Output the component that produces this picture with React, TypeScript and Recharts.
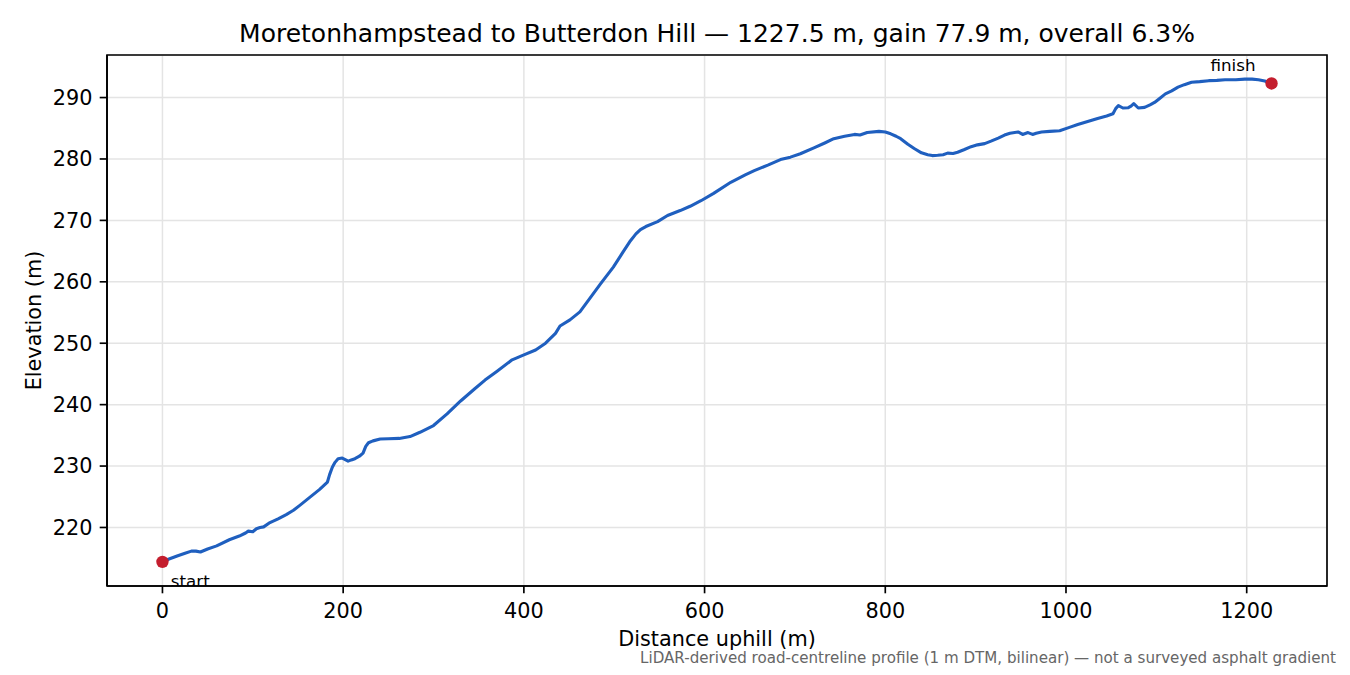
import React from 'react';
import {
  LineChart,
  Line,
  XAxis,
  YAxis,
  CartesianGrid,
  ReferenceArea,
} from 'recharts';

// ---- data ----
const distances: number[] = [
  0, 8, 17, 25, 32, 37, 42, 50, 60, 74, 85, 92, 95, 100, 104, 108, 112, 119, 128, 137,
  145, 152, 163, 174, 182.6, 185, 188, 191, 194.4, 199, 205.5, 209, 213, 218, 222, 225,
  228, 233, 241, 250, 262, 274, 285, 300, 315, 330, 345, 357, 370, 387, 400, 413, 424,
  435, 440, 451, 462, 473, 485, 499, 510, 518, 524, 529, 535, 548, 559, 573, 584, 596, 610, 629,
  645, 655, 670, 684, 695, 706, 721, 733, 743, 755, 766, 772, 780, 793, 800, 806, 812,
  817, 825, 832, 840, 847, 852, 858, 864, 869, 875, 880, 887, 895, 902, 910, 917, 925,
  932, 938, 947, 952, 958, 963, 967, 973, 982, 993, 1003, 1013, 1024, 1035, 1045, 1052,
  1055, 1058, 1063, 1069, 1072, 1075, 1080, 1087, 1093, 1098, 1104, 1110, 1117, 1124,
  1131, 1139, 1148, 1158, 1167, 1176, 1188, 1198, 1206, 1213, 1220, 1227.5,
];

const elevations: number[] = [
  214.4, 214.9, 215.4, 215.8, 216.15, 216.15, 216.0, 216.5, 217.0, 218.0, 218.6, 219.1,
  219.4, 219.3, 219.8, 220.0, 220.1, 220.8, 221.4, 222.1, 222.8, 223.6, 224.9, 226.2,
  227.4, 228.6, 229.8, 230.6, 231.2, 231.3, 230.8, 231.0, 231.2, 231.6, 232.1, 233.2,
  233.8, 234.1, 234.4, 234.45, 234.5, 234.8, 235.5, 236.6, 238.5, 240.6, 242.5, 244.0,
  245.4, 247.3, 248.1, 248.9, 250.0, 251.6, 252.8, 253.8, 255.1, 257.3, 259.7, 262.4,
  264.9, 266.7, 267.8, 268.5, 269.0, 269.8, 270.8, 271.6, 272.3, 273.2, 274.4, 276.2, 277.4, 278.1,
  279.0, 279.9, 280.3, 280.85, 281.8, 282.6, 283.3, 283.7, 284.0, 283.9, 284.3, 284.5,
  284.4, 284.1, 283.7, 283.3, 282.4, 281.7, 281.0, 280.7, 280.55, 280.6, 280.7, 280.95,
  280.9, 281.1, 281.5, 282.0, 282.3, 282.5, 282.9, 283.4, 283.9, 284.2, 284.4, 284.0,
  284.3, 284.0, 284.2, 284.4, 284.5, 284.6, 285.1, 285.6, 286.1, 286.6, 287.0, 287.35,
  288.2, 288.7, 288.3, 288.35, 288.6, 289.0, 288.3, 288.4, 288.8, 289.2, 289.9, 290.6,
  291.1, 291.7, 292.1, 292.5, 292.6, 292.75, 292.8, 292.9, 292.9, 293.0, 293.0, 292.9,
  292.7, 292.3,
];

const markerLabels: string[] = ['start', 'finish'];
const xTicks: number[] = [0, 200, 400, 600, 800, 1000, 1200];
const yTicks: number[] = [220, 230, 240, 250, 260, 270, 280, 290];

const TITLE = 'Moretonhampstead to Butterdon Hill \u2014 1227.5 m, gain 77.9 m, overall 6.3%';
const X_LABEL = 'Distance uphill (m)';
const Y_LABEL = 'Elevation (m)';
const FOOTNOTE =
  'LiDAR-derived road-centreline profile (1 m DTM, bilinear) \u2014 not a surveyed asphalt gradient';

// ---- derived tables ----
const profile = distances.map((d, i) => ({ dist: d, elev: elevations[i] }));
const markers = [
  { dist: distances[0], elev: elevations[0], label: markerLabels[0] },
  {
    dist: distances[distances.length - 1],
    elev: elevations[elevations.length - 1],
    label: markerLabels[1],
  },
];

const xMin = Math.min(...distances);
const xMax = Math.max(...distances);
const yMin = Math.min(...elevations);
const yMax = Math.max(...elevations);
const xPad = (xMax - xMin) * 0.05;
const yPad = (yMax - yMin) * 0.05;
const xDomain: [number, number] = [xMin - xPad, xMax + xPad];
const yDomain: [number, number] = [yMin - yPad, yMax + yPad];

const FONT = '"DejaVu Sans", sans-serif';
const BLUE = '#1f5fbf';
const RED = '#c41e2e';
const AXIS_W = 1.67;

const renderMarker = (props: any) => {
  const { cx, cy, index, payload } = props;
  const isStart = index === 0;
  return (
    <g key={`marker-${index}`}>
      <circle cx={cx} cy={cy} r={6.2} fill={RED} />
      <text
        x={isStart ? cx + 8.4 : cx - 16}
        y={isStart ? cy + 25 : cy - 12.5}
        textAnchor={isStart ? 'start' : 'end'}
        fontSize={16.7}
        fontFamily={FONT}
        fill="#000"
      >
        {payload.label}
      </text>
    </g>
  );
};

export default function App() {
  return (
    <div
      style={{
        position: 'absolute',
        left: 0,
        top: 0,
        width: 1350,
        height: 675,
        background: '#fff',
        fontFamily: FONT,
      }}
    >
      <LineChart
        width={1350}
        height={675}
        margin={{ top: 55, right: 23, bottom: 0, left: 0 }}
      >
        <CartesianGrid stroke="#e4e4e4" strokeWidth={1.5} />
        <XAxis
          dataKey="dist"
          type="number"
          domain={xDomain}
          ticks={xTicks}
          allowDataOverflow
          height={89}
          tickSize={7.3}
          tickMargin={9.6}
          axisLine={{ stroke: '#000', strokeWidth: AXIS_W }}
          tickLine={{ stroke: '#000', strokeWidth: AXIS_W }}
          tick={{ fill: '#000', fontSize: 20.8, fontFamily: FONT }}
        />
        <YAxis
          dataKey="elev"
          type="number"
          domain={yDomain}
          ticks={yTicks}
          allowDataOverflow
          width={107}
          tickSize={7.3}
          tickMargin={7.3}
          axisLine={{ stroke: '#000', strokeWidth: AXIS_W }}
          tickLine={{ stroke: '#000', strokeWidth: AXIS_W }}
          tick={{ fill: '#000', fontSize: 20.8, fontFamily: FONT }}
        />
        <Line
          data={profile}
          dataKey="elev"
          type="linear"
          stroke={BLUE}
          strokeWidth={3.1}
          dot={false}
          activeDot={false}
          isAnimationActive={false}
          strokeLinejoin="round"
        />
        <Line
          data={markers}
          dataKey="elev"
          stroke="none"
          strokeWidth={0}
          dot={renderMarker}
          activeDot={false}
          isAnimationActive={false}
        />
        <ReferenceArea
          x1={xDomain[0]}
          x2={xDomain[1]}
          y1={yDomain[0]}
          y2={yDomain[1]}
          fill="none"
          fillOpacity={0}
          stroke="#000"
          strokeWidth={AXIS_W}
          ifOverflow="visible"
        />
      </LineChart>
      <svg
        width={1350}
        height={675}
        style={{ position: 'absolute', left: 0, top: 0, pointerEvents: 'none' }}
      >
        <text x={717} y={42} textAnchor="middle" fontSize={25} fontFamily={FONT} fill="#000">
          {TITLE}
        </text>
        <text x={717} y={646} textAnchor="middle" fontSize={20.8} fontFamily={FONT} fill="#000">
          {X_LABEL}
        </text>
        <text
          x={41}
          y={320.5}
          textAnchor="middle"
          fontSize={20.8}
          fontFamily={FONT}
          fill="#000"
          transform="rotate(-90, 41, 320.5)"
        >
          {Y_LABEL}
        </text>
        <text x={1336} y={663} textAnchor="end" fontSize={15.1} fontFamily={FONT} fill="#666">
          {FOOTNOTE}
        </text>
      </svg>
    </div>
  );
}
